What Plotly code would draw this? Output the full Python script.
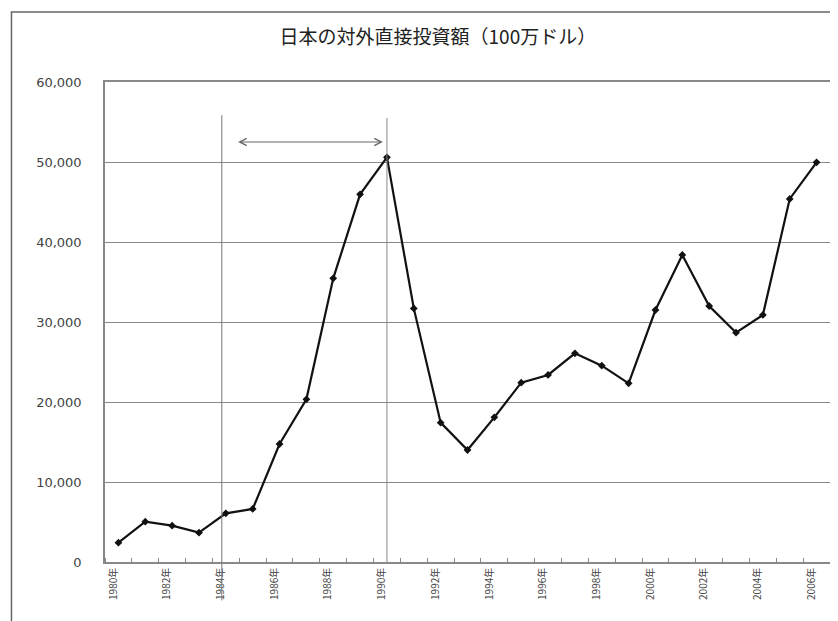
import plotly.graph_objects as go

years = list(range(1980, 2007))
fdi = [2420, 5040, 4540, 3670, 6080, 6630, 14750, 20330, 35460, 45960, 50580,
       31700, 17420, 14000, 18080, 22420, 23380, 26080, 24540, 22330, 31500,
       38380, 32000, 28670, 30880, 45380, 49960]
label_years = list(range(1980, 2007, 2))
label_text = [f"{y}年" for y in label_years]
y_ticks = [0, 10000, 20000, 30000, 40000, 50000, 60000]
y_text = ["0", "10,000", "20,000", "30,000", "40,000", "50,000", "60,000"]
title = "日本の対外直接投資額（100万ドル）"

fig = go.Figure()
fig.add_trace(go.Scatter(
    x=years, y=fdi, mode="lines+markers",
    line=dict(color="#111111", width=2.2),
    marker=dict(symbol="diamond", size=6, color="#111111"),
    showlegend=False, cliponaxis=False,
))

# hand-drawn style markers: vertical lines and double arrow
fig.add_shape(type="line", xref="x", yref="paper", x0=1983.85, x1=1983.85,
              y0=-0.08, y1=0.931, line=dict(color="#777777", width=1))
fig.add_shape(type="line", xref="x", yref="paper", x0=1990, x1=1990,
              y0=0, y1=0.925, line=dict(color="#888888", width=1))
fig.add_annotation(x=1989.85, y=52500, ax=1984.4, ay=52500, xref="x", yref="y",
                   axref="x", ayref="y", text="", showarrow=True,
                   arrowhead=5, startarrowhead=5, arrowside="end+start",
                   arrowsize=1.4, arrowwidth=1, arrowcolor="#666666")

# outer frame
fig.add_shape(type="rect", xref="paper", yref="paper", x0=-0.129, x1=1.008,
              y0=-0.14, y1=1.146, line=dict(color="#666666", width=1.5))

fig.update_layout(
    width=838, height=621,
    margin=dict(l=97, r=16, t=74, b=67),
    paper_bgcolor="white", plot_bgcolor="white",
    title=dict(text=title, x=0.513, xanchor="center", y=0.953, yanchor="middle",
               font=dict(family="Noto Sans CJK JP", size=19, color="#222222")),
    font=dict(family="DejaVu Sans", color="#333333"),
    xaxis=dict(
        range=[1979.5, 2006.5], tickmode="array", tickvals=label_years,
        ticktext=label_text, tickangle=-90, ticks="", showgrid=False,
        tickfont=dict(size=10, family="Noto Sans CJK JP", color="#444444"),
        ticklabelshift=-5,
        showline=True, linecolor="#888888", linewidth=1.5, mirror=True,
        zeroline=False,
        minor=dict(tick0=1979.5, dtick=1, ticks="inside", ticklen=4,
                   tickcolor="#888888", showgrid=False),
    ),
    yaxis=dict(
        range=[0, 60000], tickmode="array", tickvals=y_ticks, ticktext=y_text,
        showgrid=True, gridcolor="#8a8a8a", gridwidth=1, ticks="",
        tickfont=dict(size=13, family="DejaVu Sans", color="#444444"),
        ticklabelstandoff=19,
        showline=True, linecolor="#888888", linewidth=1.5, mirror=True,
        zeroline=False,
    ),
)

fig.write_html("out.html")
